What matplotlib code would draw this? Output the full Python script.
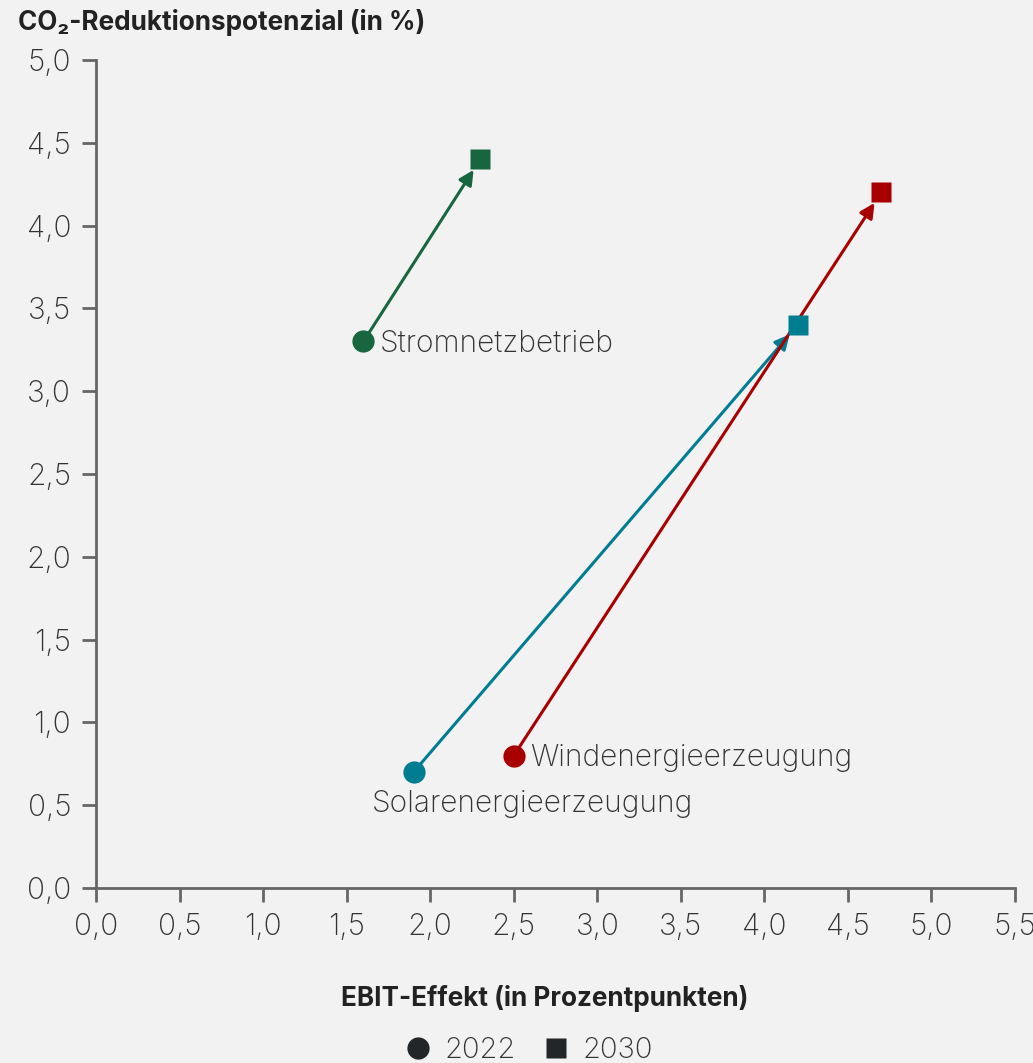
import matplotlib.pyplot as plt
from matplotlib.lines import Line2D

# data
segments = ['Stromnetzbetrieb', 'Solarenergieerzeugung', 'Windenergieerzeugung']
ebit_2022 = [1.6, 1.9, 2.5]
co2_2022 = [3.3, 0.7, 0.8]
ebit_2030 = [2.3, 4.2, 4.7]
co2_2030 = [4.4, 3.4, 4.2]
colors = ['#17663f', '#007d91', '#a80000']
x_ticks = [0.0, 0.5, 1.0, 1.5, 2.0, 2.5, 3.0, 3.5, 4.0, 4.5, 5.0, 5.5]
y_ticks = [0.0, 0.5, 1.0, 1.5, 2.0, 2.5, 3.0, 3.5, 4.0, 4.5, 5.0]
label_offsets = [(12, -12), (-30, -33), (12, -12)]

BG = '#f2f2f2'
TEXT = '#333333'
AXIS = '#666666'
FAMILY = ['Inter', 'DejaVu Sans']

plt.rcParams['font.family'] = FAMILY

fig = plt.figure(figsize=(10.33, 10.63), dpi=100, facecolor=BG)
ax = fig.add_axes([0.093, 0.1646, 0.8896, 0.779], facecolor=BG)

for i, name in enumerate(segments):
    c = colors[i]
    ax.annotate('', xy=(ebit_2030[i], co2_2030[i]), xytext=(ebit_2022[i], co2_2022[i]),
                arrowprops=dict(arrowstyle='-|>', color=c, lw=2.2, mutation_scale=22,
                                shrinkA=0, shrinkB=9), zorder=2)
    ax.plot(ebit_2022[i], co2_2022[i], 'o', ms=16, color=c, mec='none', zorder=3)
    ax.plot(ebit_2030[i], co2_2030[i], 's', ms=15, color=c, mec='none', zorder=3)
    ax.annotate(name, (ebit_2022[i], co2_2022[i]), xytext=label_offsets[i],
                textcoords='offset points', ha='left', va='bottom',
                fontsize=21.5, fontweight='light', color=TEXT)

ax.set_xlim(0, 5.5)
ax.set_ylim(0, 5.0)
ax.set_xticks(x_ticks)
ax.set_yticks(y_ticks)
ax.set_xticklabels([f'{v:.1f}'.replace('.', ',') for v in x_ticks])
ax.set_yticklabels([f'{v:.1f}'.replace('.', ',') for v in y_ticks])
ax.tick_params(axis='both', direction='out', length=10, width=2, color=AXIS,
               labelsize=21.5, labelcolor=TEXT, pad=8)
for lab in ax.get_xticklabels() + ax.get_yticklabels():
    lab.set_fontweight('light')
for side in ['top', 'right']:
    ax.spines[side].set_visible(False)
for side in ['left', 'bottom']:
    ax.spines[side].set_color(AXIS)
    ax.spines[side].set_linewidth(2)

fig.text(0.0175, 0.979, 'CO₂-Reduktionspotenzial (in %)', fontsize=18.8,
         fontweight='bold', color='#222222', ha='left', va='center')
fig.text(0.527, 0.061, 'EBIT-Effekt (in Prozentpunkten)', fontsize=18.8,
         fontweight='bold', color='#222222', ha='center', va='center')

handles = [Line2D([], [], ls='none', marker='o', ms=16, color='#222629', mec='none'),
           Line2D([], [], ls='none', marker='s', ms=15, color='#222629', mec='none')]
leg = fig.legend(handles, ['2022', '2030'], loc='center', bbox_to_anchor=(0.51, 0.012),
                 ncol=2, frameon=False, fontsize=21, handletextpad=0.3,
                 columnspacing=0.8, handlelength=1.2)
for t in leg.get_texts():
    t.set_color(TEXT)
    t.set_fontweight('light')

fig.savefig('out.png', dpi=100, facecolor=BG)
